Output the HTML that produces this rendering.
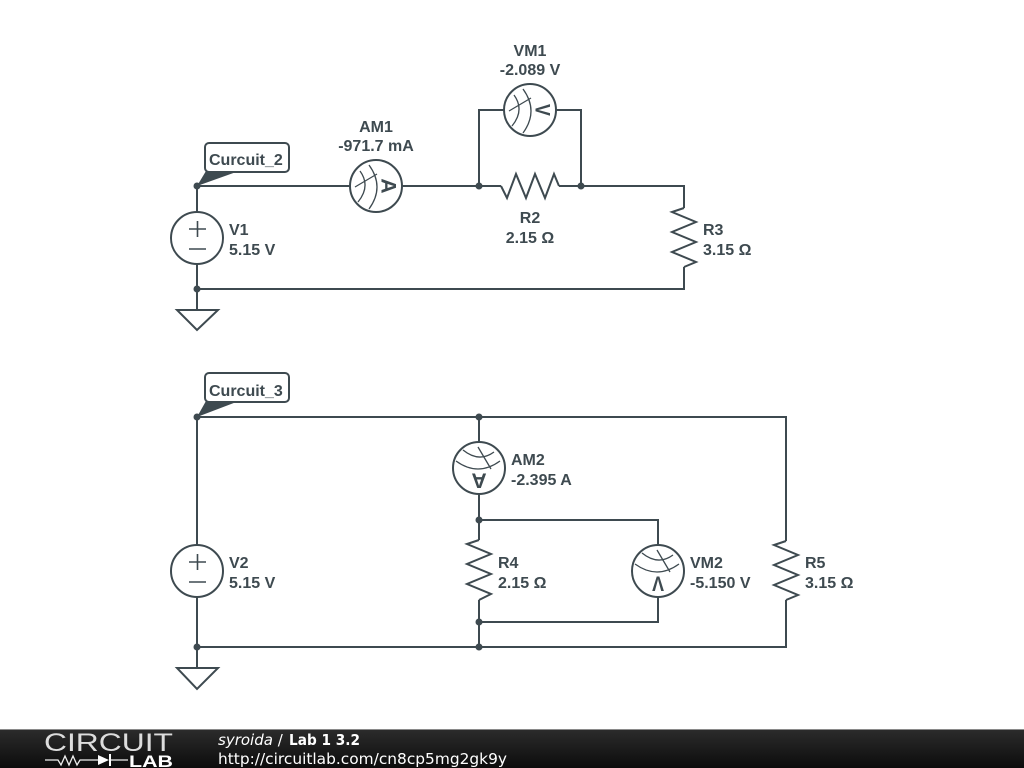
<!DOCTYPE html>
<html><head><meta charset="utf-8"><style>
html,body{margin:0;padding:0;background:#fff;width:1024px;height:768px;overflow:hidden}
svg{display:block}
.w{fill:none;stroke:#3e4a50;stroke-width:2;stroke-linejoin:miter}
.t{font:bold 16px "Liberation Sans",sans-serif;fill:#3e4a50}
.m{fill:none;stroke:#3e4a50;stroke-width:1.3}
.c{fill:#fff;stroke:#3e4a50;stroke-width:2}
.f{font:15px "DejaVu Sans",sans-serif;fill:#fff}
.l{font:bold 21px "Liberation Sans",sans-serif;fill:#3e4a50}
</style></head><body>
<svg width="1024" height="768" viewBox="0 0 1024 768" xmlns="http://www.w3.org/2000/svg">
<defs><linearGradient id="g" x1="0" y1="0" x2="0" y2="1"><stop offset="0" stop-color="#2c2c2c"/><stop offset="1" stop-color="#0c0c0c"/></linearGradient></defs>

<!-- Circuit 2 wires -->
<path class="w" d="M197 186H350M402 186H501M559 186H684V208M684 267V289H197M197 186V212M197 264V310"/>
<path class="w" d="M479 186V110H504M556 110H581V186"/>
<path class="w" d="M501 186L507 198L516 174L526 198L535 174L545 198L554 174L559 186"/>
<path class="w" d="M684 208L672 212L696 222L672 232L696 242L672 252L696 262L684 267"/>
<path class="w" d="M177 310H218L197 330Z"/>

<!-- Circuit 3 wires -->
<path class="w" d="M197 417H786V541M786 600V647H197M197 417V545M197 597V668"/>
<path class="w" d="M479 417V442M479 494V540M479 600V647M479 520H658V545M658 597V622H479"/>
<path class="w" d="M479 540L467 544L491 554L467 564L491 574L467 584L491 594L479 600"/>
<path class="w" d="M786 541L774 545L798 555L774 565L798 575L774 585L798 595L786 600"/>
<path class="w" d="M177 668H218L197 689Z"/>

<!-- Sources -->
<circle class="c" cx="197" cy="238" r="26"/>
<path class="m" style="stroke-width:1.6" d="M189 229H206M197.500 221V237M189 249H206"/>
<circle class="c" cx="197" cy="571" r="26"/>
<path class="m" style="stroke-width:1.6" d="M189 562H206M197.500 554V570M189 582H206"/>

<!-- Meters -->
<g transform="translate(376 186)">
<circle class="c" r="26"/><path class="m" d="M-16 -15Q-5 0 -18 16M-7 -21Q9 1 -7 23M-21 1L1 -12"/>
<text class="l" transform="translate(5.500 0) rotate(90)" text-anchor="middle">A</text></g>
<g transform="translate(530 110)">
<circle class="c" r="26"/><path class="m" d="M-16 -15Q-5 0 -18 16M-7 -21Q9 1 -7 23M-21 1L1 -12"/>
<text class="l" transform="translate(5.500 0) rotate(90) scale(.85 1)" text-anchor="middle">V</text></g>
<g transform="translate(479 468) rotate(90)">
<circle class="c" r="26"/><path class="m" d="M-16 -15Q-5 0 -18 16M-7 -21Q9 1 -7 23M-21 1L1 -12"/>
<text class="l" transform="translate(5.500 0) rotate(90)" text-anchor="middle">A</text></g>
<g transform="translate(658 571) rotate(90)">
<circle class="c" r="26"/><path class="m" d="M-16 -15Q-5 0 -18 16M-7 -21Q9 1 -7 23M-21 1L1 -12"/>
<text class="l" transform="translate(5.500 0) rotate(90) scale(.85 1)" text-anchor="middle">V</text></g>

<!-- Junction dots -->
<g fill="#3e4a50">
<circle cx="197" cy="186" r="3.500"/><circle cx="197" cy="289" r="3.500"/><circle cx="479" cy="186" r="3.500"/><circle cx="581" cy="186" r="3.500"/>
<circle cx="197" cy="417" r="3.500"/><circle cx="479" cy="417" r="3.500"/><circle cx="479" cy="520" r="3.500"/><circle cx="479" cy="622" r="3.500"/><circle cx="479" cy="647" r="3.500"/><circle cx="197" cy="647" r="3.500"/>
</g>

<!-- Net labels -->
<path fill="#3e4a50" d="M197 186L206 171H239Z"/>
<rect x="205" y="143" width="84" height="29" rx="4" fill="#fff" stroke="#3e4a50" stroke-width="2"/>
<text class="t" x="209" y="165">Curcuit_2</text>
<path fill="#3e4a50" d="M197 417L206 401H239Z"/>
<rect x="205" y="373" width="84" height="29" rx="4" fill="#fff" stroke="#3e4a50" stroke-width="2"/>
<text class="t" x="209" y="396">Curcuit_3</text>

<!-- Labels -->
<text class="t" x="376" y="132" text-anchor="middle">AM1</text>
<text class="t" x="376" y="151" text-anchor="middle">-971.7 mA</text>
<text class="t" x="530" y="56" text-anchor="middle">VM1</text>
<text class="t" x="530" y="75" text-anchor="middle">-2.089 V</text>
<text class="t" x="530" y="223" text-anchor="middle">R2</text>
<text class="t" x="530" y="243" text-anchor="middle">2.15 Ω</text>
<text class="t" x="703" y="235">R3</text>
<text class="t" x="703" y="255">3.15 Ω</text>
<text class="t" x="229" y="235">V1</text>
<text class="t" x="229" y="255">5.15 V</text>
<text class="t" x="229" y="568">V2</text>
<text class="t" x="229" y="588">5.15 V</text>
<text class="t" x="511" y="465">AM2</text>
<text class="t" x="511" y="485">-2.395 A</text>
<text class="t" x="498" y="568">R4</text>
<text class="t" x="498" y="588">2.15 Ω</text>
<text class="t" x="690" y="568">VM2</text>
<text class="t" x="690" y="588">-5.150 V</text>
<text class="t" x="805" y="568">R5</text>
<text class="t" x="805" y="588">3.15 Ω</text>

<!-- Footer -->
<rect x="0" y="729" width="1024" height="39" fill="url(#g)"/>
<rect x="0" y="729" width="1024" height="1" fill="#8a8a8a"/>
<text x="44" y="751" font-family="Liberation Sans, sans-serif" font-size="25" fill="#ddd" textLength="129" lengthAdjust="spacingAndGlyphs">CIRCUIT</text>
<path fill="none" stroke="#eee" stroke-width="1.3" d="M45 760H58L61 765L65 756L69 765L73 756L77 765L80 760H98M110 760H128"/>
<path fill="#fff" d="M98 755L109 760L98 765Z"/>
<path stroke="#fff" stroke-width="2" d="M110 754V766"/>
<text x="129" y="767" font-family="Liberation Sans, sans-serif" font-weight="bold" font-size="17" fill="#fff" textLength="44" lengthAdjust="spacingAndGlyphs">LAB</text>
<text class="f" x="218" y="745"><tspan font-style="italic">syroida</tspan> / </text>
<text class="f" x="289" y="745" font-weight="bold" style="font-weight:bold" textLength="71" lengthAdjust="spacingAndGlyphs">Lab 1 3.2</text>
<text class="f" x="218" y="764" textLength="289" lengthAdjust="spacingAndGlyphs">http://circuitlab.com/cn8cp5mg2gk9y</text>
</svg>
</body></html>
